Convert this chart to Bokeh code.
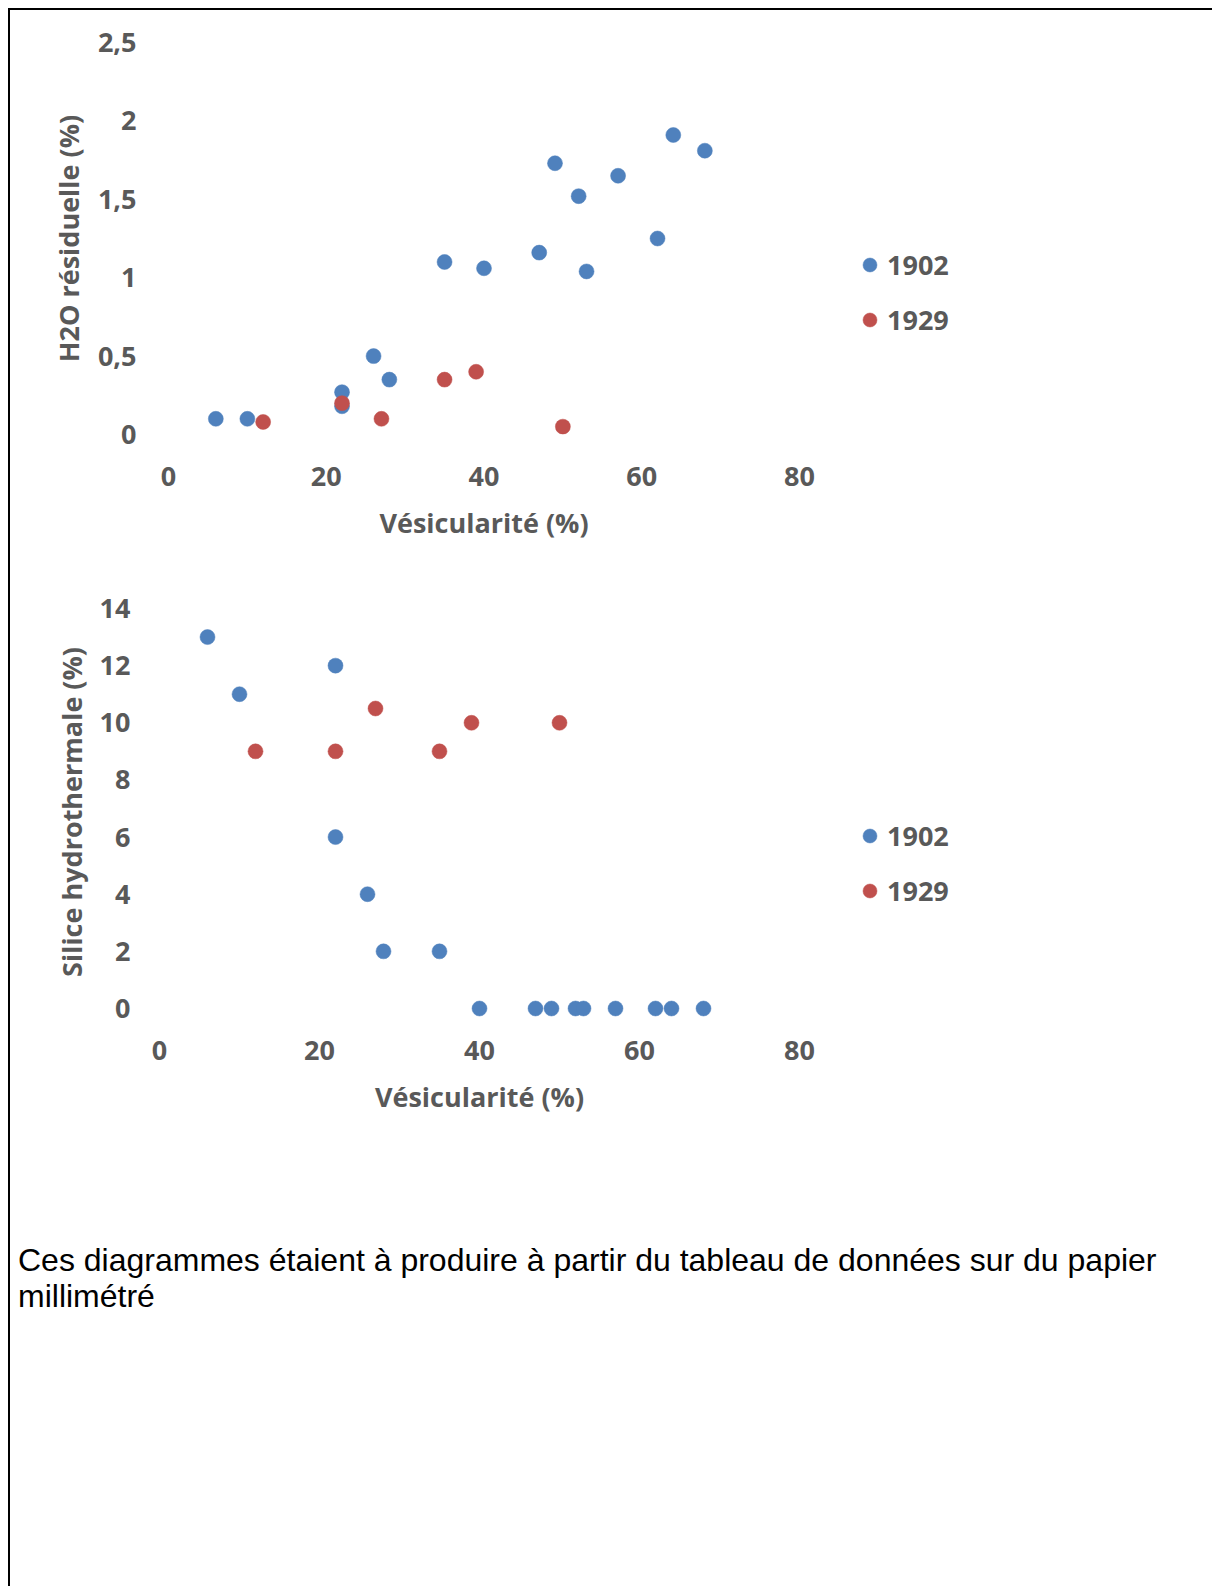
from bokeh.plotting import figure
from bokeh.models import (Range1d, FixedTicker, CustomJSTickFormatter, Legend,
                          LegendItem, Div)
from bokeh.layouts import column, row
from bokeh.embed import file_html
from bokeh.resources import INLINE

# ---------------- data ----------------
series_names = ["1902", "1929"]
vesic_1902 = [6, 10, 22, 22, 26, 28, 35, 40, 47, 49, 52, 53, 57, 62, 64, 68]
h2o_1902 = [0.10, 0.10, 0.27, 0.18, 0.50, 0.35, 1.10, 1.06, 1.16, 1.73, 1.52,
            1.04, 1.65, 1.25, 1.91, 1.81]
silice_1902 = [13, 11, 12, 6, 4, 2, 2, 0, 0, 0, 0, 0, 0, 0, 0, 0]

vesic_1929 = [12, 22, 27, 35, 39, 50]
h2o_1929 = [0.08, 0.20, 0.10, 0.35, 0.40, 0.05]
silice_1929 = [9, 9, 10.5, 9, 10, 10]

x_ticks = [0, 20, 40, 60, 80]
h2o_ticks = [0, 0.5, 1, 1.5, 2, 2.5]
silice_ticks = [0, 2, 4, 6, 8, 10, 12, 14]

x_title = "Vésicularité (%)"
h2o_title = "H2O résiduelle (%)"
silice_title = "Silice hydrothermale  (%)"
note_text = ("Ces diagrammes étaient à produire à partir du tableau de données "
             "sur du papier<br>millimétré")

# ---------------- style ----------------
BLUE = "#4F81BD"
RED = "#C0504D"
GREY = "#595959"
FONT = "Open Sans"
FS = "27px"

comma_fmt = CustomJSTickFormatter(code="return tick.toString().replace('.', ',');")


def make_chart(y1902, y1929, yticks, ymin, ymax, ytitle, height, mb_left, frame_w,
               mb_top, frame_h, mb_bottom, ylab_standoff, ytitle_standoff,
               xlab_standoff, xtitle_standoff, legend_loc):
    p = figure(width=1194, height=height, x_range=Range1d(0, 80),
               y_range=Range1d(ymin, ymax), output_backend="svg",
               toolbar_location=None, frame_width=frame_w, frame_height=frame_h,
               min_border_left=mb_left, min_border_right=1194 - mb_left - frame_w,
               min_border_top=mb_top, min_border_bottom=mb_bottom)
    p.grid.visible = False
    p.outline_line_color = None
    p.background_fill_color = "white"
    p.border_fill_color = "white"

    r1 = p.scatter(vesic_1902, y1902, size=15, fill_color=BLUE, line_color=BLUE,
                   line_width=0.5)
    r2 = p.scatter(vesic_1929, y1929, size=15, fill_color=RED, line_color=RED,
                   line_width=0.5)

    for ax in (p.xaxis[0], p.yaxis[0]):
        ax.axis_line_color = None
        ax.major_tick_line_color = None
        ax.minor_tick_line_color = None
        ax.major_label_text_font = FONT
        ax.major_label_text_font_size = FS
        ax.major_label_text_font_style = "bold"
        ax.major_label_text_color = GREY
        ax.axis_label_text_font = FONT
        ax.axis_label_text_font_size = FS
        ax.axis_label_text_font_style = "bold"
        ax.axis_label_text_color = GREY

    p.xaxis.ticker = FixedTicker(ticks=x_ticks)
    p.xaxis.axis_label = x_title
    p.xaxis.major_label_standoff = xlab_standoff
    p.xaxis.axis_label_standoff = xtitle_standoff

    p.yaxis.ticker = FixedTicker(ticks=yticks)
    p.yaxis.formatter = comma_fmt
    p.yaxis.axis_label = ytitle
    p.yaxis.major_label_standoff = ylab_standoff
    p.yaxis.axis_label_standoff = ytitle_standoff

    legend = Legend(items=[LegendItem(label=series_names[0], renderers=[r1]),
                           LegendItem(label=series_names[1], renderers=[r2])],
                    location=legend_loc, border_line_color=None,
                    background_fill_alpha=0, padding=0, margin=0,
                    glyph_width=35, glyph_height=35, label_height=40,
                    label_standoff=0, spacing=15,
                    label_text_font=FONT, label_text_font_size=FS,
                    label_text_font_style="bold", label_text_color=GREY)
    p.add_layout(legend, "right")
    return p


p1 = make_chart(h2o_1902, h2o_1929, h2o_ticks, 0, 2.5, h2o_title,
                height=560, mb_left=158, frame_w=631, mb_top=32, frame_h=392,
                mb_bottom=136, ylab_standoff=26, ytitle_standoff=8,
                xlab_standoff=26, xtitle_standoff=15, legend_loc=(53, 95))
p2 = make_chart(silice_1902, silice_1929, silice_ticks, -0.35, 14.35, silice_title,
                height=570, mb_left=149, frame_w=640, mb_top=28, frame_h=420,
                mb_bottom=122, ylab_standoff=23, ytitle_standoff=7,
                xlab_standoff=16, xtitle_standoff=15, legend_loc=(53, 108))

note = Div(text=note_text, width=1194, height=438,
           styles={"font-family": "Liberation Sans, Arial, sans-serif",
                   "font-size": "32px", "line-height": "36px", "color": "black",
                   "padding-top": "97px", "padding-left": "3px",
                   "box-sizing": "border-box"})

root = column(row(p1), row(p2), note, spacing=0,
              styles={"border-left": "2px solid black",
                      "border-top": "2px solid black",
                      "margin-left": "8px", "margin-top": "8px"})

with open("out.html", "w") as f:
    f.write(file_html(root, INLINE))
